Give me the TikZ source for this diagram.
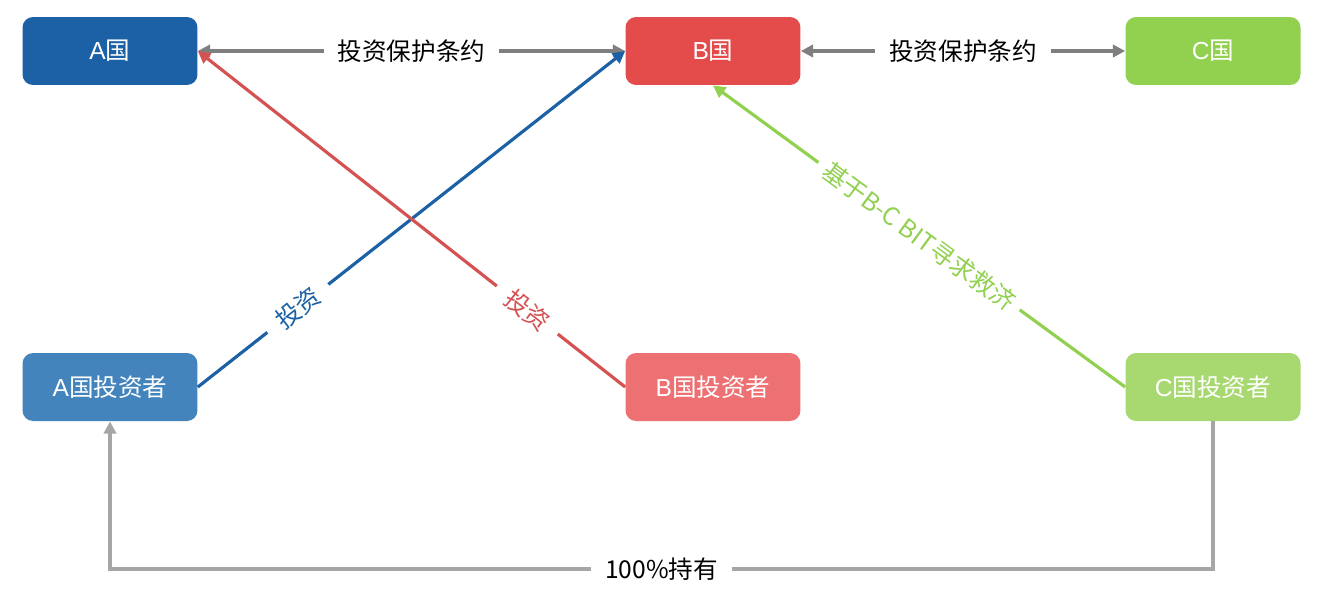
\documentclass[tikz,border=0pt]{standalone}
\usepackage{fontspec}
\setmainfont{Noto Sans CJK SC}
\newfontfamily\latin{Liberation Sans}
\usetikzlibrary{arrows.meta}

\definecolor{ablue}{HTML}{1C61A5}
\definecolor{ainv}{HTML}{4484BD}
\definecolor{bred}{HTML}{E44C4C}
\definecolor{binv}{HTML}{ED7072}
\definecolor{cgreen}{HTML}{92D050}
\definecolor{cinv}{HTML}{A8D870}
\definecolor{redline}{HTML}{D55253}
\definecolor{greyline}{HTML}{7F7F7F}
\definecolor{greyhold}{HTML}{A6A6A6}

\begin{document}
\begin{tikzpicture}[x=0.02cm,y=-0.02cm,
	box/.style={rounded corners=6pt,minimum width=3.5cm,minimum height=1.36cm,
		text=white,font=\fontsize{14}{16}\selectfont},
	lbl/.style={fill=white,inner sep=8pt,text=black,font=\fontsize{14}{16}\selectfont},
	arr/.style={line width=1.8pt,>={Triangle[length=7pt,width=7pt]}}]
	\useasboundingbox (0,0) rectangle (1324,589);
	
	\node[box,fill=ablue] (A) at (110,51) {{\latin A}国};
	\node[box,fill=bred] (B) at (713,51) {{\latin B}国};
	\node[box,fill=cgreen] (C) at (1213,51) {{\latin C}国};
	\node[box,fill=ainv] (Ainv) at (110,387) {{\latin A}国投资者};
	\node[box,fill=binv] (Binv) at (713,387) {{\latin B}国投资者};
	\node[box,fill=cinv] (Cinv) at (1213,387) {{\latin C}国投资者};
	
	\draw[arr,<->,greyline] (A) -- node[lbl] {投资保护条约} (B);
	\draw[arr,<->,greyline] (B) -- node[lbl] {投资保护条约} (C);
	
	\draw[arr,->,ablue] (Ainv.east) -- node[lbl,sloped,pos=0.234,text=ablue] {投资} (B.west);
	\draw[arr,->,redline] (Binv.west) -- node[lbl,sloped,pos=0.229,text=redline] {投资} (A.east);
	\draw[arr,->,cgreen] (Cinv.west) -- node[lbl,sloped,inner sep=5pt,text=cgreen]
		{基于B-C BIT寻求救济} (B.south);
	
	\coordinate (turn) at (Cinv.south |- 0,569);
	\draw[arr,->,greyhold] (Cinv.south) -- (turn) -| node[lbl,pos=0.25] {100\%持有} (Ainv.south);
\end{tikzpicture}
\end{document}
